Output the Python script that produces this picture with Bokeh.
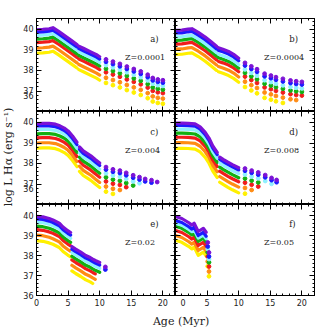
import math
import numpy as np
from bokeh.plotting import figure
from bokeh.models import Range1d, LinearAxis, FixedTicker, Label, GridBox, CustomLabelingPolicy
from bokeh.embed import file_html
from bokeh.resources import INLINE

NAN = float("nan")

# ---------------- data ----------------
SERIES_COLORS = ["#7b12d6", "#1a1aff", "#8ff0ff", "#12b012", "#f01c1c", "#ff8c14", "#fff000"]

X_MAJOR = [0, 5, 10, 15, 20]
X_MINOR = list(range(0, 23))
Y_MAJOR = [36, 37, 38, 39, 40]
Y_MINOR = [36.0, 36.2, 36.4, 36.6, 36.8, 37.0, 37.2, 37.4, 37.6, 37.8, 38.0, 38.2, 38.4,
           38.6, 38.8, 39.0, 39.2, 39.4, 39.6, 39.8, 40.0, 40.2, 40.4]

PANEL_LETTERS = ["a)", "b)", "c)", "d)", "e)", "f)"]
PANEL_Z = ["Z=0.0001", "Z=0.0004", "Z=0.004", "Z=0.008", "Z=0.02", "Z=0.05"]

# panel a
A_DENSE_AGE = [0, 1, 2, 2.6, 3.5, 4.5, 5.5, 6.4, NAN, 6.7, 7.5, 8.5, 9.5, 10.0]
A_DENSE_TOP = [40.0, 40.02, 40.05, 40.1, 39.92, 39.7, 39.48, 39.28, NAN, 39.2, 39.08, 38.93, 38.78, 38.68]
A_SPARSE_AGE = [11.0, 12.1, 13.2, 14.3, 15.4, 16.5, 17.6, 18.4, 19.2, 20.0]
A_SPARSE_TOP = [38.55, 38.44, 38.33, 38.2, 38.08, 37.96, 37.8, 37.64, 37.57, 37.53]
A_OFFSETS = [0, -0.12, -0.28, -0.46, -0.63, -0.9, -1.15]
A_DENSE_END = [10.0, 10.0, 10.0, 10.0, 10.0, 10.0, 10.0]
A_SPARSE_END = [20.0, 20.0, 20.0, 20.0, 20.0, 20.0, 20.0]

# panel b
B_DENSE_AGE = [0, 1, 2, 2.6, 3.6, 4.7, 5.6, 6.5, NAN, 6.8, 7.5, 8.4, 9.2, 10.0]
B_DENSE_TOP = [39.97, 39.98, 40.03, 40.05, 39.87, 39.64, 39.42, 39.19, NAN, 39.12, 39.05, 38.94, 38.8, 38.61]
B_SPARSE_AGE = [11.0, 12.0, 12.9, 14.1, 15.1, 15.9, 17.0, 18.2, 19.1, 20.0]
B_SPARSE_TOP = [38.38, 38.21, 38.07, 37.85, 37.76, 37.68, 37.6, 37.52, 37.48, 37.45]
B_OFFSETS = [0, -0.13, -0.32, -0.49, -0.67, -0.92, -1.18]
B_DENSE_END = [10.0, 10.0, 10.0, 10.0, 10.0, 10.0, 10.0]
B_SPARSE_END = [20.0, 20.0, 20.0, 20.0, 20.0, 19.1, 17.0]

# panel c
C_DENSE_AGE = [0, 1, 2, 3, 3.7, 4.4, 5.0, 5.7, 6.4, NAN, 6.8, 7.4, 8.0, 8.6, 9.3, 10.0]
C_DENSE_TOP = [39.96, 39.97, 39.97, 39.93, 39.85, 39.74, 39.6, 39.35, 39.05, NAN, 38.82, 38.62, 38.5, 38.38, 38.2, 38.03]
C_SPARSE_AGE = [11.0, 12.1, 13.2, 14.2, 15.3, 16.3, 17.2, 18.2, 19.1]
C_SPARSE_TOP = [37.83, 37.72, 37.66, 37.55, 37.43, 37.34, 37.25, 37.19, 37.1]
C_OFFSETS = [0, -0.12, -0.3, -0.5, -0.7, -0.95, -1.2]
C_DENSE_END = [10.0, 10.0, 10.0, 10.0, 10.0, 10.0, 10.0]
C_SPARSE_END = [19.1, 18.2, 16.3, 15.3, 14.2, 13.2, 12.1]

# panel d
D_DENSE_AGE = [0, 1, 2, 3.1, 3.9, 4.7, 5.3, 5.9, 6.6, NAN, 7.0, 7.6, 8.3, 9.0, 10.0]
D_DENSE_TOP = [39.98, 39.98, 39.97, 39.94, 39.8, 39.53, 39.25, 38.87, 38.55, NAN, 38.32, 38.2, 38.07, 37.95, 37.8]
D_SPARSE_AGE = [11.0, 12.05, 13.1, 14.2, 15.2, 16.0]
D_SPARSE_TOP = [37.76, 37.66, 37.57, 37.44, 37.3, 37.2]
D_OFFSETS = [0, -0.11, -0.29, -0.49, -0.69, -0.95, -1.23]
D_DENSE_END = [10.0, 10.0, 10.0, 10.0, 10.0, 10.0, 10.0]
D_SPARSE_END = [16.0, 16.0, 15.2, 13.1, 13.1, 12.05, 11.0]

# panel e
E_DENSE_AGE = [0, 1, 2, 2.6, 3.6, 4.2, 4.95, 5.4, NAN, 5.6, 6.2, 7.0, 7.8, 8.5, 8.9, 9.3, 10.0]
E_DENSE_TOP = [39.96, 39.93, 39.85, 39.78, 39.62, 39.42, 39.24, 39.15, NAN, 38.45, 38.32, 38.17, 38.0, 37.9, 37.82, 37.75, 37.65]
E_SPARSE_AGE = [10.9]
E_SPARSE_TOP = [37.43]
E_OFFSETS = [0, -0.13, -0.29, -0.49, -0.67, -0.94, -1.22]
E_DENSE_END = [10.0, 10.0, 10.0, 10.0, 9.3, 9.3, 8.9]
E_SPARSE_END = [10.9, 10.9, 0.0, 0.0, 0.0, 0.0, 0.0]

# panel f
F_DENSE_AGE = [0, 1.0, 2.05, 2.6, 2.95, 3.6, 4.4, 4.85]
F_DENSE_TOP = [39.95, 39.85, 39.65, 39.52, 39.61, 39.2, 39.36, 39.16]
F_SPARSE_AGE = [5.1, 5.3]
F_SPARSE_TOP = [38.65, 38.15]
F_OFFSETS = [0, -0.2, -0.33, -0.49, -0.7, -0.95, -1.19]
F_DENSE_END = [4.85, 4.85, 4.85, 4.85, 4.85, 4.85, 4.85]
F_SPARSE_END = [5.3, 5.3, 5.3, 5.3, 5.3, 5.3, 5.3]

PANELS = [
    (A_DENSE_AGE, A_DENSE_TOP, A_SPARSE_AGE, A_SPARSE_TOP, A_OFFSETS, A_DENSE_END, A_SPARSE_END),
    (B_DENSE_AGE, B_DENSE_TOP, B_SPARSE_AGE, B_SPARSE_TOP, B_OFFSETS, B_DENSE_END, B_SPARSE_END),
    (C_DENSE_AGE, C_DENSE_TOP, C_SPARSE_AGE, C_SPARSE_TOP, C_OFFSETS, C_DENSE_END, C_SPARSE_END),
    (D_DENSE_AGE, D_DENSE_TOP, D_SPARSE_AGE, D_SPARSE_TOP, D_OFFSETS, D_DENSE_END, D_SPARSE_END),
    (E_DENSE_AGE, E_DENSE_TOP, E_SPARSE_AGE, E_SPARSE_TOP, E_OFFSETS, E_DENSE_END, E_SPARSE_END),
    (F_DENSE_AGE, F_DENSE_TOP, F_SPARSE_AGE, F_SPARSE_TOP, F_OFFSETS, F_DENSE_END, F_SPARSE_END),
]

# ---------------- layout / style ----------------
COL_W = [155, 143]
ROW_H = [111, 93, 106]
SERIF = "DejaVu Serif"
SANS = "DejaVu Sans"

NO_LABELS = "for (const i of indices) { indices.unset(i) }\nreturn indices"


def style_axis(ax, show_labels):
    ax.axis_line_color = "black"
    ax.major_tick_line_color = "black"
    ax.minor_tick_line_color = "black"
    ax.major_tick_in = 5
    ax.major_tick_out = 0
    ax.minor_tick_in = 2
    ax.minor_tick_out = 0
    ax.major_label_text_font = SANS
    ax.major_label_text_color = "#222222"
    if show_labels:
        ax.major_label_standoff = 3
        ax.major_label_text_font_size = "8px"
    else:
        ax.major_label_standoff = 0
        ax.major_label_text_font_size = "0px"
        ax.major_label_policy = CustomLabelingPolicy(code=NO_LABELS)


def make_panel(i):
    r, c = divmod(i, 2)
    dense_age, dense_top, sparse_age, sparse_top, offsets, dense_end, sparse_end = PANELS[i]
    p = figure(width=COL_W[c], height=ROW_H[r],
               x_range=Range1d(0, 22), y_range=Range1d(36, 40.55),
               output_backend="svg", toolbar_location=None,
               min_border_left=16 if c == 0 else 0,
               min_border_right=0 if c == 0 else 4,
               min_border_top=18 if r == 0 else 0,
               min_border_bottom=13 if r == 2 else 0)
    p.grid.visible = False
    p.outline_line_color = "black"
    p.background_fill_color = "white"
    p.border_fill_color = "white"

    p.xaxis.ticker = FixedTicker(ticks=X_MAJOR, minor_ticks=X_MINOR)
    p.yaxis.ticker = FixedTicker(ticks=Y_MAJOR, minor_ticks=Y_MINOR)
    style_axis(p.xaxis[0], r == 2)
    style_axis(p.yaxis[0], c == 0)
    if c == 0 and r < 2:
        p.yaxis[0].major_label_overrides = {36: "36\n"}
    if c == 1 and r == 2:
        p.xaxis[0].major_label_overrides = {0: "\u00a0\u00a00"}
    top_ax = LinearAxis(ticker=FixedTicker(ticks=X_MAJOR, minor_ticks=X_MINOR))
    right_ax = LinearAxis(ticker=FixedTicker(ticks=Y_MAJOR, minor_ticks=Y_MINOR))
    style_axis(top_ax, False)
    style_axis(right_ax, False)
    p.add_layout(top_ax, "above")
    p.add_layout(right_ax, "right")

    da = np.array(dense_age, dtype=float)
    dt = np.array(dense_top, dtype=float)
    sa = np.array(sparse_age, dtype=float)
    st = np.array(sparse_top, dtype=float)
    for k in range(len(SERIES_COLORS) - 1, -1, -1):
        col = SERIES_COLORS[k]
        keep = np.isnan(da) | (da <= dense_end[k] + 1e-9)
        p.line(da[keep], dt[keep] + offsets[k], line_width=3.2, color=col,
               line_join="round", line_cap="round")
        sk = sa <= sparse_end[k] + 1e-9
        if sk.any():
            p.scatter(sa[sk], st[sk] + offsets[k], marker="circle", size=3.8,
                      color=col)

    p.add_layout(Label(x=18, y=39.57, text=PANEL_LETTERS[i], text_align="left",
                       text_baseline="middle", text_font=SERIF,
                       text_font_size="8.5px", text_color="#222222"))
    p.add_layout(Label(x=14, y=38.64, text=PANEL_Z[i], text_align="left",
                       text_baseline="middle", text_font=SERIF,
                       text_font_size="8px", text_color="#222222"))
    return p


figs = [make_panel(i) for i in range(6)]

ylab = figure(width=20, height=sum(ROW_H), x_range=Range1d(0, 1), y_range=Range1d(0, 1),
              output_backend="svg", toolbar_location=None,
              x_axis_location=None, y_axis_location=None, min_border=0)
ylab.grid.visible = False
ylab.outline_line_color = None
ylab.add_layout(Label(x=0.42, y=0.5, text="log L H\u03b1 (erg s\u207b\u00b9)",
                      angle=math.pi / 2, text_align="center", text_baseline="middle",
                      text_font=SERIF, text_font_size="11px", text_color="#222222"))

xlab = figure(width=sum(COL_W), height=20, x_range=Range1d(0, 1), y_range=Range1d(0, 1),
              output_backend="svg", toolbar_location=None,
              x_axis_location=None, y_axis_location=None, min_border=0)
xlab.grid.visible = False
xlab.outline_line_color = None
xlab.add_layout(Label(x=0.52, y=0.45, text="Age (Myr)", text_align="center",
                      text_baseline="middle", text_font=SERIF, text_font_size="11px",
                      text_color="#222222"))

children = [(ylab, 0, 0, 3, 1)]
for i, f in enumerate(figs):
    r, c = divmod(i, 2)
    children.append((f, r, c + 1))
children.append((xlab, 3, 1, 1, 2))

layout = GridBox(children=children, spacing=0)

open("out.html", "w").write(file_html(layout, INLINE))
